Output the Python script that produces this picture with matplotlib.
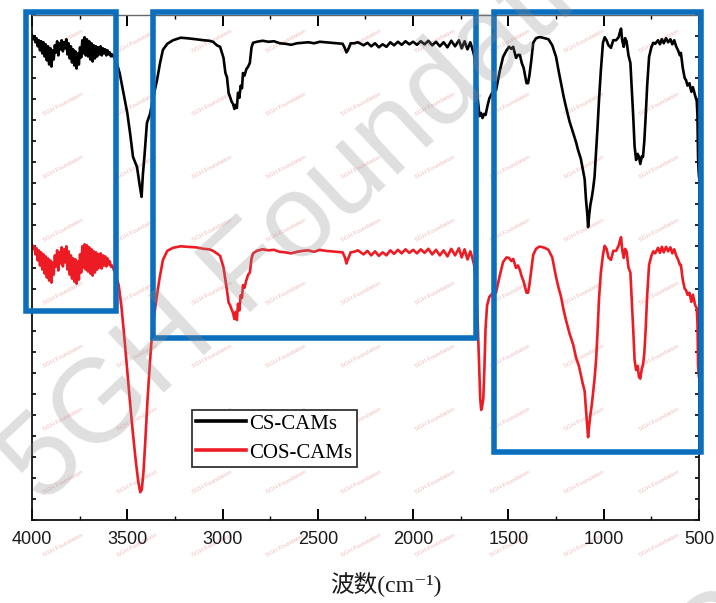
#!/usr/bin/env python3
"""
FTIR spectra of CS-CAMs and COS-CAMs with highlighted regions.
"""

import numpy as np
import matplotlib.pyplot as plt
from matplotlib.patches import Rectangle
from matplotlib.ticker import MultipleLocator

# ── Data (wavenumber cm-1, transmittance a.u.) ────────────────────────────────

CS_POINTS = [
    (4000, 96.0), (3994, 95.2), (3988, 95.8), (3982, 94.6), (3976, 95.4), (3970, 93.8),
    (3964, 95.0), (3958, 93.0), (3952, 94.8), (3946, 92.4), (3940, 94.6), (3934, 91.8),
    (3928, 94.2), (3922, 91.0), (3916, 93.8), (3910, 90.2), (3904, 93.4), (3898, 89.8),
    (3892, 93.0), (3886, 91.2), (3880, 94.0), (3874, 92.6), (3868, 94.8), (3862, 92.0),
    (3856, 94.4), (3850, 93.2), (3844, 95.0), (3838, 92.8), (3832, 94.6), (3826, 93.4),
    (3820, 95.2), (3814, 92.2), (3808, 94.4), (3802, 91.4), (3796, 93.8), (3790, 90.6),
    (3784, 93.2), (3778, 90.0), (3772, 92.8), (3766, 89.4), (3760, 92.4), (3754, 90.2),
    (3748, 93.6), (3742, 91.6), (3736, 95.0), (3730, 92.4), (3724, 95.6), (3718, 92.0),
    (3712, 95.2), (3706, 91.8), (3700, 94.8), (3694, 91.2), (3688, 94.4), (3682, 90.8),
    (3676, 94.0), (3670, 91.4), (3664, 93.8), (3658, 91.8), (3652, 93.6), (3646, 92.2),
    (3640, 93.8), (3634, 92.0), (3628, 93.4), (3622, 92.4), (3616, 93.2), (3610, 92.0),
    (3604, 93.0), (3598, 92.2), (3592, 92.6), (3586, 91.8), (3580, 92.2),
    (3560, 91.1), (3540, 88.5), (3520, 84.5), (3500, 80.6), (3485, 76.5), (3470, 71.9),
    (3449, 69.9), (3435, 66.3), (3425, 64.0), (3418, 68.5), (3410, 72.0), (3397, 78.6),
    (3380, 80.5), (3365, 83.5), (3344, 87.1), (3328, 90.5), (3313, 93.1), (3290, 94.3),
    (3260, 95.0), (3220, 95.5), (3187, 95.4), (3140, 95.2), (3100, 95.0), (3070, 94.9),
    (3050, 94.7), (3030, 94.0), (3013, 93.7), (2995, 91.5), (2985, 88.5), (2977, 87.7),
    (2968, 84.5), (2961, 83.8), (2952, 82.8), (2945, 82.4), (2938, 81.4), (2932, 82.2),
    (2925, 81.6), (2919, 84.6), (2912, 83.6), (2905, 86.0), (2898, 85.5), (2893, 88.5),
    (2885, 88.0), (2875, 89.3), (2867, 89.7), (2857, 90.5), (2848, 93.6), (2840, 94.5),
    (2820, 94.7), (2790, 94.9), (2760, 94.7), (2730, 94.8), (2700, 94.4), (2670, 94.3),
    (2640, 94.1), (2610, 94.4), (2580, 94.5), (2550, 94.6), (2520, 94.4), (2490, 94.7),
    (2460, 94.6), (2430, 94.5), (2400, 94.4), (2370, 94.3), (2358, 93.4), (2350, 92.6),
    (2343, 93.0), (2336, 93.6), (2328, 94.4), (2310, 94.4), (2290, 94.6), (2260, 94.0),
    (2240, 94.5), (2220, 93.8), (2200, 94.4), (2180, 93.6), (2160, 94.2), (2140, 93.7),
    (2120, 94.6), (2100, 94.0), (2080, 94.7), (2060, 94.1), (2040, 94.8), (2020, 94.2),
    (2000, 94.7), (1980, 94.1), (1960, 94.8), (1940, 94.2), (1920, 94.9), (1900, 94.0),
    (1880, 94.7), (1860, 93.8), (1840, 94.6), (1820, 93.6), (1800, 94.9), (1780, 93.8),
    (1760, 95.0), (1745, 93.4), (1730, 94.8), (1715, 93.2), (1700, 94.6), (1690, 93.4),
    (1680, 92.0), (1670, 88.0), (1660, 83.0), (1652, 80.0), (1644, 80.6), (1636, 79.6),
    (1628, 80.4), (1620, 80.2), (1610, 82.0), (1600, 83.5), (1585, 84.6), (1565, 85.1),
    (1545, 89.0), (1528, 91.7), (1510, 93.0), (1497, 93.7), (1485, 93.3), (1475, 93.7),
    (1460, 91.5), (1450, 92.1), (1440, 92.1), (1430, 90.5), (1420, 89.5), (1405, 86.5),
    (1397, 86.5), (1390, 88.0), (1380, 91.0), (1370, 94.5), (1355, 95.4), (1340, 95.6),
    (1329, 95.6), (1310, 95.4), (1290, 95.2), (1270, 94.0), (1250, 91.7), (1237, 89.0),
    (1224, 86.5), (1210, 83.8), (1198, 81.8), (1180, 79.0), (1160, 76.6), (1145, 74.8),
    (1135, 73.3), (1120, 71.5), (1110, 69.5), (1100, 67.5), (1093, 63.4), (1086, 60.5),
    (1082, 58.0), (1076, 60.5), (1070, 62.4), (1062, 64.0), (1056, 65.5), (1048, 68.0),
    (1040, 73.0), (1032, 78.0), (1025, 83.0), (1015, 89.0), (1004, 94.5), (995, 95.6),
    (985, 95.0), (975, 94.0), (962, 93.5), (950, 95.0), (935, 95.0), (922, 95.6),
    (915, 96.6), (909, 97.3), (903, 95.0), (895, 93.7), (888, 95.4), (880, 94.8),
    (870, 92.0), (860, 90.5), (852, 85.0), (845, 79.8), (838, 74.0), (830, 71.3),
    (822, 72.5), (815, 71.9), (808, 70.5), (800, 72.0), (794, 71.9), (787, 75.0),
    (780, 79.8), (772, 86.0), (762, 91.7), (750, 93.6), (740, 94.5), (730, 94.3),
    (715, 95.0), (705, 94.2), (695, 95.2), (685, 94.4), (673, 95.4), (662, 94.6),
    (650, 95.2), (640, 94.2), (630, 95.0), (620, 93.8), (610, 93.0), (600, 92.0),
    (595, 92.5), (585, 89.5), (575, 87.5), (568, 87.1), (560, 86.0), (550, 86.5),
    (540, 84.8), (532, 85.7), (520, 84.0), (512, 83.0), (508, 80.0), (505, 71.9),
    (502, 69.0), (500, 68.0),
]

COS_POINTS = [
    (4000, 54.5), (3994, 53.8), (3988, 54.2), (3982, 52.6), (3976, 53.8), (3970, 51.4),
    (3964, 53.4), (3958, 50.4), (3952, 53.0), (3946, 49.6), (3940, 52.6), (3934, 48.8),
    (3928, 52.2), (3922, 48.0), (3916, 51.8), (3910, 47.4), (3904, 51.4), (3898, 47.0),
    (3892, 51.0), (3886, 48.6), (3880, 52.4), (3874, 50.2), (3868, 53.4), (3862, 49.4),
    (3856, 53.0), (3850, 50.8), (3844, 54.0), (3838, 50.2), (3832, 53.6), (3826, 51.0),
    (3820, 54.2), (3814, 49.6), (3808, 53.2), (3802, 48.6), (3796, 52.4), (3790, 47.8),
    (3784, 51.8), (3778, 47.2), (3772, 51.6), (3766, 46.8), (3760, 51.2), (3754, 47.6),
    (3748, 52.6), (3742, 49.0), (3736, 54.2), (3730, 50.0), (3724, 54.6), (3718, 49.6),
    (3712, 54.4), (3706, 49.2), (3700, 54.0), (3694, 48.8), (3688, 53.6), (3682, 48.4),
    (3676, 53.2), (3670, 49.0), (3664, 53.0), (3658, 49.6), (3652, 52.6), (3646, 50.0),
    (3640, 52.8), (3634, 49.8), (3628, 52.4), (3622, 50.4), (3616, 52.2), (3610, 50.2),
    (3604, 51.8), (3598, 50.6), (3592, 51.2), (3586, 50.2), (3580, 50.4),
    (3560, 48.5), (3545, 46.5), (3530, 42.0), (3515, 36.0), (3500, 29.5), (3485, 23.0),
    (3470, 17.0), (3455, 11.5), (3442, 7.5), (3432, 5.5), (3424, 6.0), (3415, 9.5),
    (3405, 16.0), (3395, 23.0), (3385, 29.0), (3375, 34.5), (3365, 38.5), (3355, 41.6),
    (3344, 44.6), (3330, 48.0), (3313, 51.5), (3290, 53.3), (3260, 53.9), (3220, 54.2),
    (3187, 54.1), (3140, 54.0), (3100, 53.7), (3070, 53.6), (3050, 53.3), (3030, 52.8),
    (3013, 52.3), (2995, 50.0), (2985, 47.5), (2977, 45.5), (2968, 43.0), (2961, 42.6),
    (2952, 41.6), (2945, 41.0), (2938, 39.8), (2932, 41.2), (2925, 39.6), (2919, 42.8),
    (2912, 41.5), (2905, 44.5), (2898, 44.0), (2893, 46.5), (2885, 46.0), (2875, 47.5),
    (2867, 48.5), (2857, 49.0), (2848, 51.8), (2840, 52.8), (2820, 53.3), (2790, 53.6),
    (2760, 53.4), (2730, 53.5), (2700, 53.1), (2670, 53.0), (2640, 52.8), (2610, 53.1),
    (2580, 53.3), (2550, 53.4), (2520, 53.1), (2490, 53.5), (2460, 53.3), (2430, 53.2),
    (2400, 53.1), (2370, 53.0), (2358, 52.0), (2350, 50.8), (2343, 51.6), (2336, 52.2),
    (2328, 53.0), (2310, 53.1), (2290, 53.4), (2260, 52.6), (2240, 53.3), (2220, 52.4),
    (2200, 53.2), (2180, 52.3), (2160, 53.0), (2140, 52.4), (2120, 53.4), (2100, 52.7),
    (2080, 53.5), (2060, 52.8), (2040, 53.6), (2020, 52.9), (2000, 53.5), (1980, 52.8),
    (1960, 53.6), (1940, 52.9), (1920, 53.7), (1900, 52.6), (1880, 53.5), (1860, 52.4),
    (1840, 53.4), (1820, 52.2), (1800, 53.7), (1780, 52.4), (1760, 53.8), (1745, 52.0),
    (1730, 53.6), (1715, 51.6), (1700, 53.2), (1690, 52.0), (1680, 50.5), (1670, 46.0),
    (1662, 40.0), (1655, 32.0), (1648, 24.0), (1643, 21.8), (1638, 22.5), (1632, 24.0),
    (1626, 30.0), (1620, 38.0), (1612, 42.5), (1600, 44.2), (1585, 44.8), (1565, 45.0),
    (1545, 48.5), (1528, 51.1), (1510, 52.0), (1497, 51.9), (1485, 51.3), (1475, 51.7),
    (1460, 49.9), (1450, 50.4), (1440, 49.5), (1430, 48.2), (1420, 47.2), (1405, 45.0),
    (1397, 45.0), (1390, 46.5), (1380, 49.5), (1370, 52.5), (1355, 53.7), (1340, 54.1),
    (1329, 54.1), (1310, 53.9), (1290, 53.5), (1270, 52.0), (1250, 48.1), (1237, 46.0),
    (1224, 44.2), (1210, 41.5), (1198, 39.6), (1180, 37.0), (1160, 34.7), (1145, 32.1),
    (1130, 30.5), (1120, 28.7), (1110, 27.0), (1100, 25.5), (1093, 21.8), (1086, 18.5),
    (1082, 16.4), (1076, 18.8), (1070, 20.8), (1062, 23.0), (1056, 25.1), (1048, 28.0),
    (1040, 31.7), (1032, 37.5), (1025, 43.6), (1015, 49.0), (1004, 52.5), (995, 54.3),
    (985, 53.7), (975, 52.0), (962, 51.5), (950, 53.3), (935, 53.3), (922, 54.3),
    (915, 55.3), (909, 56.0), (903, 53.5), (895, 51.9), (888, 53.7), (880, 53.2),
    (870, 50.0), (860, 49.0), (852, 43.0), (845, 37.6), (838, 31.7), (830, 29.7),
    (822, 30.5), (815, 28.3), (808, 28.0), (800, 30.0), (794, 30.7), (787, 33.0),
    (780, 37.6), (772, 44.5), (762, 50.5), (750, 52.3), (740, 53.2), (730, 52.8),
    (715, 53.9), (705, 52.9), (695, 54.1), (685, 53.0), (673, 54.1), (662, 53.2),
    (650, 54.0), (640, 52.8), (630, 53.6), (620, 52.4), (610, 51.6), (600, 50.5),
    (595, 50.5), (585, 47.5), (575, 45.8), (568, 45.5), (560, 44.6), (550, 45.0),
    (540, 43.2), (532, 44.6), (520, 42.5), (512, 42.0), (508, 39.0), (505, 30.7),
    (502, 29.0), (500, 28.3),
]

SERIES_LABELS = ["CS-CAMs", "COS-CAMs"]
SERIES_COLORS = ["#000000", "#ED1C24"]
XTICKS = [4000, 3500, 3000, 2500, 2000, 1500, 1000, 500]

W, H = 716, 603
BOX_COLOR = "#0B6FBE"
# highlight boxes in image pixels: (left, top, right, bottom)
BOXES = [(26, 12, 116, 311), (153, 12, 476, 338), (494, 12, 701, 452)]


def main():
    fig = plt.figure(figsize=(W / 100, H / 100), dpi=100)
    fig.patch.set_facecolor("white")

    # tiled small watermark (only the copies fully inside the picture)
    for j in range(9):
        for k in range(1, 10):
            x = -11.5 + 74.5 * k
            y = 41 + 63 * j
            fig.text(x / W, 1 - y / H, "SGH Foundation", fontsize=4.3,
                     color="#f0bcbc", rotation=28, ha="center", va="center",
                     zorder=-1, family="Liberation Sans")

    ax = fig.add_axes([32 / W, 1 - 520 / H, (699 - 32) / W, (520 - 15) / H])
    ax.patch.set_visible(False)

    for pts, label, color in zip([CS_POINTS, COS_POINTS], SERIES_LABELS, SERIES_COLORS):
        arr = np.array(pts)
        ax.plot(arr[:, 0], arr[:, 1], color=color, lw=1.9, label=label,
                solid_joinstyle="round")

    ax.set_xlim(4000, 500)
    ax.set_ylim(0, 100)
    ax.set_xticks(XTICKS)
    ax.set_xticklabels([str(t) for t in XTICKS], family="Liberation Sans",
                       fontsize=13, color="#1a1a1a")
    ax.xaxis.set_minor_locator(MultipleLocator(250))
    ax.set_yticks(np.linspace(0, 100, 25))
    ax.set_yticklabels([])
    ax.tick_params(axis="x", which="major", direction="in", length=8, width=1.4,
                   top=True, pad=8)
    ax.tick_params(axis="x", which="minor", direction="in", length=3, width=1.0, top=True)
    ax.tick_params(axis="y", which="major", direction="in", length=3, width=1.2,
                   right=True)
    for side in ["left", "bottom", "right"]:
        ax.spines[side].set_linewidth(1.3)
        ax.spines[side].set_color("#111111")
    ax.spines["top"].set_linewidth(1.0)
    ax.spines["top"].set_color("#666666")

    leg = ax.legend(loc="upper left", bbox_to_anchor=(192 / W, 1 - 410 / H),
                    bbox_transform=fig.transFigure, borderaxespad=0,
                    prop={"family": "Liberation Serif", "size": 15},
                    frameon=True, fancybox=False, edgecolor="#333333",
                    framealpha=1, handlelength=2.4, handletextpad=0.15,
                    borderpad=0.2, labelspacing=0.45)
    leg.get_frame().set_linewidth(1.3)
    for line in leg.get_lines():
        line.set_linewidth(2.6)

    fig.text(386 / W, 1 - 584 / H, "波数(cm⁻¹)",
             family=["Liberation Serif", "DejaVu Serif", "Noto Sans CJK SC"],
             fontsize=17, ha="center", va="center", color="#1a1a1a")

    # highlight boxes
    for (l, t, r, b) in BOXES:
        fig.add_artist(Rectangle((l / W, 1 - b / H), (r - l) / W, (b - t) / H,
                                 transform=fig.transFigure, fill=False,
                                 edgecolor=BOX_COLOR, lw=4.0, zorder=5))

    # big diagonal watermark
    for (x0, y0) in [(42, 506), (661, 740)]:
        fig.text(x0 / W, 1 - y0 / H, "5GH Foundation", fontsize=85,
                 family="Liberation Sans", color="#8c8c8c", alpha=0.28,
                 rotation=43, rotation_mode="anchor", ha="left", va="baseline",
                 zorder=10)

    fig.savefig("out.png", dpi=100)


if __name__ == "__main__":
    main()
